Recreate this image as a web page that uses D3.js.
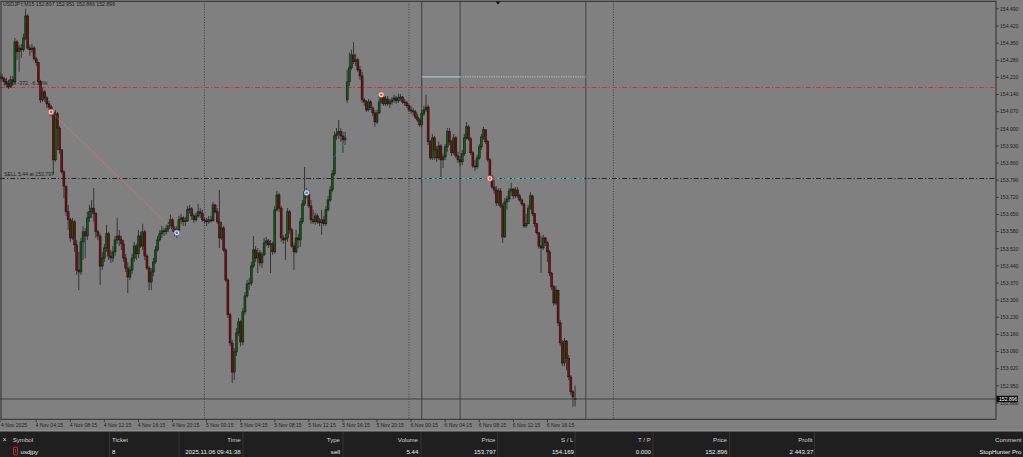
<!DOCTYPE html>
<html><head><meta charset="utf-8">
<script src="https://cdn.jsdelivr.net/npm/d3@7"></script>
<style>
html,body{margin:0;padding:0;background:#808080;overflow:hidden}
svg{display:block}
text{font-family:"Liberation Sans",Arial,sans-serif}
</style></head><body>
<svg id="c" width="1023" height="457"></svg>
<script>
// ---------------- DATA ----------------
const symbolTitle = "USDJPY,M15";
const startTime = "2025-11-04T00:00";
const open = [
154.208,154.212,154.204,154.192,154.184,154.171,154.200,154.192,154.355,154.315,
154.330,154.323,154.371,154.461,154.330,154.323,154.330,154.286,154.270,154.192,
154.118,154.151,154.126,154.102,154.089,154.069,153.873,154.061,154.003,153.914,
153.824,153.766,153.661,153.628,153.554,153.620,153.526,153.423,153.415,153.538,
153.579,153.562,153.636,153.661,153.676,153.653,153.579,153.562,153.439,153.472,
153.513,153.571,153.480,153.472,153.497,153.546,153.562,153.546,153.530,153.472,
153.431,153.394,153.423,153.472,153.521,153.489,153.562,153.521,153.579,153.480,
153.431,153.374,153.415,153.456,153.505,153.546,153.571,153.583,153.579,153.591,
153.603,153.628,153.591,153.579,153.587,153.628,153.636,153.620,153.624,153.669,
153.673,153.644,153.628,153.644,153.661,153.653,153.628,153.624,153.620,153.628,
153.624,153.689,153.661,153.620,153.554,153.595,153.505,153.382,153.240,153.125,
153.006,153.088,153.166,153.211,153.129,153.252,153.317,153.366,153.370,153.439,
153.505,153.472,153.493,153.452,153.485,153.534,153.542,153.526,153.530,153.497,
153.669,153.730,153.676,153.554,153.546,153.554,153.661,153.587,153.521,153.497,
153.554,153.546,153.620,153.693,153.742,153.734,153.685,153.628,153.620,153.644,
153.620,153.616,153.628,153.612,153.669,153.709,153.750,153.816,153.971,153.979,
153.988,153.971,153.955,154.118,154.192,154.249,154.302,154.274,154.282,154.241,
154.216,154.118,154.110,154.077,154.110,154.085,154.065,154.028,154.065,154.110,
154.130,154.102,154.122,154.102,154.110,154.118,154.126,154.114,154.126,154.130,
154.110,154.106,154.094,154.077,154.073,154.069,154.048,154.036,154.016,154.061,
154.077,154.089,153.947,153.881,153.963,153.914,153.881,153.930,153.873,153.885,
153.926,153.988,153.947,153.902,153.963,153.889,153.873,153.865,153.898,153.963,
154.008,153.959,153.902,153.848,153.844,153.881,153.926,153.967,153.996,153.947,
153.873,153.803,153.762,153.750,153.697,153.746,153.685,153.558,153.701,153.713,
153.746,153.754,153.726,153.750,153.726,153.709,153.693,153.603,153.612,153.676,
153.726,153.653,153.612,153.575,153.521,153.513,153.554,153.534,153.497,153.411,
153.354,153.288,153.341,153.207,153.125,153.043,153.133,153.063,152.986,152.925,
152.897];
const high = [
154.229,154.225,154.212,154.208,154.200,154.216,154.216,154.371,154.363,154.343,
154.347,154.388,154.490,154.470,154.343,154.347,154.338,154.294,154.274,154.200,
154.167,154.159,154.134,154.114,154.098,154.069,154.077,154.069,154.011,153.914,
153.832,153.766,153.689,153.636,153.636,153.628,153.546,153.497,153.554,153.603,
153.595,153.661,153.689,153.709,153.758,153.661,153.587,153.571,153.497,153.530,
153.608,153.579,153.505,153.521,153.562,153.636,153.587,153.562,153.546,153.489,
153.456,153.439,153.489,153.538,153.530,153.587,153.579,153.612,153.587,153.489,
153.439,153.431,153.472,153.521,153.562,153.587,153.603,153.595,153.608,153.620,
153.649,153.636,153.603,153.603,153.644,153.653,153.644,153.640,153.684,153.689,
153.680,153.653,153.657,153.693,153.676,153.669,153.636,153.636,153.644,153.644,
153.701,153.693,153.676,153.750,153.620,153.603,153.513,153.390,153.248,153.137,
153.104,153.186,153.227,153.219,153.268,153.333,153.382,153.390,153.456,153.562,
153.521,153.513,153.505,153.497,153.554,153.558,153.550,153.546,153.538,153.685,
153.746,153.738,153.685,153.566,153.571,153.676,153.669,153.595,153.534,153.587,
153.571,153.636,153.709,153.844,153.758,153.750,153.709,153.669,153.657,153.653,
153.636,153.669,153.644,153.685,153.726,153.766,153.832,153.988,154.003,154.036,
154.003,153.988,153.988,154.241,154.311,154.323,154.355,154.306,154.290,154.257,
154.233,154.126,154.118,154.122,154.118,154.094,154.077,154.077,154.134,154.147,
154.139,154.134,154.134,154.122,154.130,154.139,154.134,154.143,154.143,154.134,
154.122,154.114,154.102,154.094,154.085,154.077,154.061,154.044,154.077,154.094,
154.139,154.098,153.955,153.979,153.971,153.930,153.947,153.938,153.898,153.938,
154.003,154.003,153.955,153.979,153.971,153.906,153.889,153.914,153.979,154.028,
154.016,153.967,153.910,153.873,153.893,153.938,153.979,154.008,153.996,153.955,
153.881,153.812,153.791,153.766,153.758,153.758,153.697,153.717,153.726,153.758,
153.779,153.758,153.762,153.762,153.734,153.717,153.697,153.653,153.689,153.742,
153.730,153.657,153.616,153.579,153.562,153.567,153.558,153.542,153.505,153.415,
153.362,153.358,153.341,153.219,153.137,153.145,153.137,153.076,152.994,152.933,
152.951];
const low = [
154.196,154.192,154.175,154.167,154.163,154.167,154.175,154.184,154.282,154.233,
154.290,154.315,154.363,154.323,154.298,154.311,154.278,154.257,154.184,154.106,
154.110,154.110,154.085,154.077,154.052,153.812,153.865,153.914,153.898,153.816,
153.717,153.644,153.587,153.538,153.546,153.497,153.403,153.341,153.403,153.464,
153.472,153.546,153.620,153.636,153.620,153.554,153.546,153.362,153.423,153.456,
153.497,153.464,153.452,153.456,153.480,153.530,153.521,153.505,153.456,153.415,
153.329,153.382,153.407,153.456,153.464,153.472,153.513,153.505,153.464,153.423,
153.341,153.341,153.398,153.448,153.497,153.538,153.554,153.562,153.567,153.579,
153.595,153.579,153.562,153.554,153.579,153.612,153.603,153.603,153.620,153.653,
153.628,153.616,153.620,153.636,153.636,153.620,153.612,153.603,153.612,153.616,
153.620,153.653,153.612,153.513,153.546,153.497,153.374,153.227,153.112,152.961,
152.973,153.071,153.153,153.112,153.116,153.240,153.309,153.341,153.358,153.431,
153.456,153.411,153.439,153.431,153.480,153.521,153.513,153.411,153.485,153.489,
153.661,153.661,153.538,153.530,153.464,153.538,153.571,153.513,153.423,153.489,
153.513,153.517,153.612,153.685,153.717,153.676,153.612,153.612,153.608,153.612,
153.603,153.567,153.603,153.603,153.661,153.701,153.742,153.808,153.955,153.959,
153.947,153.902,153.934,154.106,154.175,154.241,154.265,154.257,154.233,154.200,
154.106,154.094,154.069,154.069,154.077,154.052,154.008,154.020,154.061,154.102,
154.094,154.094,154.094,154.085,154.098,154.106,154.102,154.106,154.114,154.102,
154.094,154.085,154.069,154.061,154.052,154.040,154.028,154.008,154.008,154.052,
154.069,153.934,153.873,153.873,153.873,153.865,153.873,153.803,153.840,153.873,
153.906,153.934,153.889,153.893,153.881,153.861,153.848,153.852,153.889,153.955,
153.951,153.893,153.840,153.828,153.836,153.873,153.914,153.955,153.938,153.865,
153.795,153.754,153.734,153.685,153.685,153.676,153.534,153.554,153.669,153.701,
153.726,153.713,153.717,153.717,153.701,153.685,153.595,153.595,153.612,153.669,
153.644,153.599,153.567,153.509,153.411,153.505,153.521,153.456,153.399,153.341,
153.276,153.280,153.194,153.112,153.030,153.030,153.014,152.973,152.912,152.864,
152.866];
const close = [
154.212,154.204,154.192,154.184,154.171,154.200,154.192,154.355,154.315,154.330,
154.323,154.371,154.461,154.330,154.323,154.330,154.286,154.270,154.192,154.118,
154.151,154.126,154.102,154.089,154.069,153.873,154.061,154.003,153.914,153.824,
153.766,153.661,153.628,153.554,153.620,153.526,153.423,153.415,153.538,153.579,
153.562,153.636,153.661,153.676,153.653,153.579,153.562,153.439,153.472,153.513,
153.571,153.480,153.472,153.497,153.546,153.562,153.546,153.530,153.472,153.431,
153.394,153.423,153.472,153.521,153.489,153.562,153.521,153.579,153.480,153.431,
153.374,153.415,153.456,153.505,153.546,153.571,153.583,153.579,153.591,153.603,
153.628,153.591,153.579,153.587,153.628,153.636,153.620,153.624,153.669,153.673,
153.644,153.628,153.644,153.661,153.653,153.628,153.624,153.620,153.628,153.624,
153.689,153.661,153.620,153.554,153.595,153.505,153.382,153.240,153.125,153.006,
153.088,153.166,153.211,153.129,153.252,153.317,153.366,153.370,153.439,153.505,
153.472,153.493,153.452,153.485,153.534,153.542,153.526,153.530,153.497,153.669,
153.730,153.676,153.554,153.546,153.554,153.661,153.587,153.521,153.497,153.554,
153.546,153.620,153.693,153.742,153.734,153.685,153.628,153.620,153.644,153.620,
153.616,153.628,153.612,153.669,153.709,153.750,153.816,153.971,153.979,153.988,
153.971,153.955,153.963,154.192,154.249,154.302,154.274,154.282,154.241,154.216,
154.118,154.110,154.077,154.110,154.085,154.065,154.028,154.065,154.110,154.130,
154.102,154.122,154.102,154.110,154.118,154.126,154.114,154.126,154.130,154.110,
154.106,154.094,154.077,154.073,154.069,154.048,154.036,154.016,154.061,154.077,
154.089,153.947,153.881,153.963,153.914,153.881,153.930,153.873,153.885,153.926,
153.988,153.947,153.902,153.963,153.889,153.873,153.865,153.898,153.963,154.008,
153.959,153.902,153.848,153.844,153.881,153.926,153.967,153.996,153.947,153.873,
153.803,153.762,153.750,153.697,153.746,153.685,153.558,153.701,153.713,153.746,
153.754,153.726,153.750,153.726,153.709,153.693,153.603,153.612,153.676,153.726,
153.653,153.612,153.575,153.521,153.513,153.554,153.534,153.497,153.411,153.354,
153.288,153.341,153.207,153.125,153.043,153.133,153.063,152.986,152.925,152.904,
152.896];

const priceTickLabels = ["154.490","154.420","154.350","154.280","154.210","154.140","154.070","154.000",
  "153.930","153.860","153.790","153.720","153.650","153.580","153.510","153.440","153.370","153.300",
  "153.230","153.160","153.090","153.020","152.950","152.880"];
const timeTickLabels = ["4 Nov 2025","4 Nov 04:15","4 Nov 08:15","4 Nov 12:15","4 Nov 16:15","4 Nov 20:15",
  "5 Nov 00:15","5 Nov 04:15","5 Nov 08:15","5 Nov 12:15","5 Nov 16:15","5 Nov 20:15",
  "6 Nov 00:15","6 Nov 04:15","6 Nov 08:15","6 Nov 12:15","6 Nov 16:15"];
const timeTickTimes = ["2025-11-04T00:00","2025-11-04T04:15","2025-11-04T08:15","2025-11-04T12:15","2025-11-04T16:15","2025-11-04T20:15",
  "2025-11-05T00:15","2025-11-05T04:15","2025-11-05T08:15","2025-11-05T12:15","2025-11-05T16:15","2025-11-05T20:15",
  "2025-11-06T00:15","2025-11-06T04:15","2025-11-06T08:15","2025-11-06T12:15","2025-11-06T16:15"];
const daySeparatorTimes = ["2025-11-05T00:00","2025-11-06T00:00","2025-11-07T00:00"];
const verticalLineTimes = ["2025-11-06T01:30","2025-11-06T06:00","2025-11-06T20:45"];

const tradeTypes = ["sell","buy","sell"];
const tradeOpenTimes = ["2025-11-04T06:00","2025-11-05T12:00","2025-11-06T09:30"];
const tradeOpenPrices = [154.069,153.739,153.797];
const tradeCloseTimes = ["2025-11-04T20:45","2025-11-05T20:45",null];
const tradeClosePrices = [153.575,154.139,null];

const slPrice = 154.169, entryPrice = 153.797, upperLevelPrice = 154.212;
const slLabel = "SL#8 -372, -6.28%";
const entryLabel = "SELL 5.44 at 153.797";

const tableHeaders = ["Symbol","Ticket","Time","Type","Volume","Price","S / L","T / P","Price","Profit","Comment"];
const tableRow = ["usdjpy","8","2025.11.06 09:41:38","sell","5.44","153.797","154.169","0.000","152.896","2 443.37","StopHunter Pro"];

// ---------------- DRAW ----------------
const svg = d3.select("#c");
const PL = 0, PR = 996, PT = 1.3, PB = 419.3;
const t0 = new Date(startTime).getTime();
const barOf = t => (new Date(t).getTime() - t0) / 9e5;
const x = d3.scaleLinear().domain([0, 467.6]).range([PL, PR]);
const y = d3.scaleLinear().domain([152.813, 154.521]).range([PB, PT]);
const fmt = d3.format(".3f");

svg.append("rect").attr("width",1023).attr("height",457).attr("fill","#808080");

svg.append("defs").append("clipPath").attr("id","pc").append("rect")
  .attr("x",PL).attr("y",PT).attr("width",PR-PL).attr("height",PB-PT);
const g = svg.append("g").attr("clip-path","url(#pc)");

// day separators
g.selectAll("line.sep").data(daySeparatorTimes).join("line")
  .attr("x1",d=>x(barOf(d))).attr("x2",d=>x(barOf(d)))
  .attr("y1",PT).attr("y2",PB).attr("stroke","#2e2e2e").attr("stroke-width",0.8)
  .attr("stroke-dasharray","1,1.6");

// vertical object lines
g.selectAll("line.vl").data(verticalLineTimes).join("line")
  .attr("x1",d=>x(barOf(d))).attr("x2",d=>x(barOf(d)))
  .attr("y1",PT).attr("y2",PB)
  .attr("stroke",(d,i)=> i===0 ? "#333" : "#555")
  .attr("stroke-width",(d,i)=> i===0 ? 0.9 : 1.4);

// SL line (red dash-dot) and entry line (dark dash-dot)
g.append("line").attr("x1",PL).attr("x2",PR).attr("y1",y(slPrice)).attr("y2",y(slPrice))
  .attr("stroke","#d43030").attr("stroke-width",1.1).attr("stroke-dasharray","5,2,1.2,2");
g.append("line").attr("x1",PL).attr("x2",PR).attr("y1",y(entryPrice)).attr("y2",y(entryPrice))
  .attr("stroke","#262626").attr("stroke-width",1).attr("stroke-dasharray","5,2,1.2,2");

// cyan levels between object lines
const vx = verticalLineTimes.map(t=>x(barOf(t)));
g.append("line").attr("x1",vx[0]).attr("x2",vx[1]).attr("y1",y(upperLevelPrice)).attr("y2",y(upperLevelPrice))
  .attr("stroke","#a6d6dc").attr("stroke-width",1);
g.append("line").attr("x1",vx[1]).attr("x2",vx[2]).attr("y1",y(upperLevelPrice)).attr("y2",y(upperLevelPrice))
  .attr("stroke","#a6d6dc").attr("stroke-width",0.9).attr("stroke-dasharray","1.2,1.2");
g.append("line").attr("x1",vx[0]).attr("x2",vx[2]).attr("y1",y(entryPrice)).attr("y2",y(entryPrice))
  .attr("stroke","#38c4cc").attr("stroke-width",1).attr("stroke-dasharray","2.5,2.5");

// candles
const bars = d3.range(Math.min(open.length,high.length,low.length,close.length))
  .map(i=>({i,o:open[i],h:high[i],l:low[i],c:close[i]}));
g.selectAll("line.wick").data(bars).join("line").attr("class","wick")
  .attr("x1",d=>x(d.i)).attr("x2",d=>x(d.i)).attr("y1",d=>y(d.h)).attr("y2",d=>y(d.l))
  .attr("stroke","#2c2c2c").attr("stroke-width",0.9);
g.selectAll("rect.body").data(bars).join("rect").attr("class","body")
  .attr("x",d=>x(d.i)-1).attr("width",2)
  .attr("y",d=>y(Math.max(d.o,d.c)))
  .attr("height",d=>Math.max(0.8, Math.abs(y(d.o)-y(d.c))))
  .attr("fill",d=> d.c>d.o ? "#0b5c0f" : (d.c<d.o ? "#7c0b0b" : "#222"))
  .attr("stroke","#141414").attr("stroke-width",0.5);

// trade lines and markers
const trades = tradeTypes.map((t,k)=>({type:t, ob:barOf(tradeOpenTimes[k]), op:tradeOpenPrices[k],
  cb: tradeCloseTimes[k] ? barOf(tradeCloseTimes[k]) : null, cp: tradeClosePrices[k]}));
const tcol = t => t==="sell" ? "#e0503a" : "#3a78c8";
g.selectAll("line.trade").data(trades.filter(d=>d.cb!==null)).join("line")
  .attr("x1",d=>x(d.ob)).attr("y1",d=>y(d.op)).attr("x2",d=>x(d.cb)).attr("y2",d=>y(d.cp))
  .attr("stroke",d=> d.type==="sell" ? "#d8806c" : "#4f88cc").attr("stroke-width",1)
  .attr("stroke-dasharray","1.3,1.7");
const marks = [];
trades.forEach(d=>{
  marks.push({b:d.ob,p:d.op,col:tcol(d.type)});
  if(d.cb!==null) marks.push({b:d.cb,p:d.cp,col:tcol(d.type==="sell"?"buy":"sell")});
});
g.selectAll("circle.mo").data(marks).join("circle")
  .attr("cx",d=>x(d.b)).attr("cy",d=>y(d.p)).attr("r",2.7)
  .attr("fill","#f4eaea").attr("fill-opacity",0.9).attr("stroke",d=>d.col).attr("stroke-width",0.5);
g.selectAll("circle.mi").data(marks).join("circle")
  .attr("cx",d=>x(d.b)).attr("cy",d=>y(d.p)).attr("r",1.3).attr("fill",d=>d.col);

// level labels
g.append("text").attr("x",4).attr("y",y(slPrice)-2).attr("font-size",5.2).attr("fill","#1e1e1e").text(slLabel);
g.append("text").attr("x",4).attr("y",y(entryPrice)-2.2).attr("font-size",5.2).attr("fill","#1e1e1e").text(entryLabel);

// bid line
const last = bars[bars.length-1];
svg.append("line").attr("x1",PL).attr("x2",PR).attr("y1",y(last.c)).attr("y2",y(last.c))
  .attr("stroke","#3a3a3a").attr("stroke-width",0.9);

// borders
svg.append("rect").attr("x",1).attr("y",PT).attr("width",PR-1).attr("height",PB-PT)
  .attr("fill","none").attr("stroke","#2e2e2e").attr("stroke-width",1);

// shift marker
svg.append("path").attr("d","M495.5,1.5 L500.5,1.5 L498,4.5 Z").attr("fill","#111");

// header text
svg.append("text").attr("x",3).attr("y",6).attr("font-size",5.2).attr("fill","#1e1e1e")
  .text(`${symbolTitle}  ${fmt(last.o)} ${fmt(last.h)} ${fmt(last.l)} ${fmt(last.c)}`);

// price axis
const pt = priceTickLabels.map(s=>({s,v:+s}));
svg.selectAll("line.pt").data(pt).join("line")
  .attr("x1",PR).attr("x2",PR+3).attr("y1",d=>y(d.v)).attr("y2",d=>y(d.v))
  .attr("stroke","#2e2e2e").attr("stroke-width",0.8);
svg.selectAll("text.pt").data(pt).join("text")
  .attr("x",PR+4).attr("y",d=>y(d.v)+1.8).attr("font-size",5.1).attr("fill","#1e1e1e").text(d=>d.s);
// current price box
svg.append("rect").attr("x",PR+0.5).attr("y",y(last.c)-3.2).attr("width",21.5).attr("height",6.4).attr("fill","#0a0a0a");
svg.append("text").attr("x",PR+3).attr("y",y(last.c)+1.8).attr("font-size",5.1).attr("fill","#ffffff").text(fmt(last.c));

// time axis
const tt = timeTickLabels.map((s,k)=>({s,b:barOf(timeTickTimes[k])}));
svg.selectAll("line.tt").data(tt).join("line")
  .attr("x1",d=>x(d.b)).attr("x2",d=>x(d.b)).attr("y1",PB).attr("y2",PB+3)
  .attr("stroke","#2e2e2e").attr("stroke-width",0.8);
svg.selectAll("text.tt").data(tt).join("text")
  .attr("x",d=>Math.max(1,x(d.b)-0.6)).attr("y",PB+7.3).attr("font-size",5.1).attr("fill","#1e1e1e").text(d=>d.s);

// toolbox table
svg.append("rect").attr("x",0).attr("y",430.5).attr("width",1023).attr("height",1).attr("fill","#9c9c9c");
svg.append("rect").attr("x",0).attr("y",431.5).attr("width",1023).attr("height",25.5).attr("fill","#1f1f1f");
const seps = [109.5,179,243,343,421,497.5,575,653,729.5,814.5];
svg.selectAll("line.tsep").data(seps).join("line")
  .attr("x1",d=>d).attr("x2",d=>d).attr("y1",432).attr("y2",457).attr("stroke","#3a3a3a").attr("stroke-width",0.8);
const colX = [12.7,112,240.7,340,418,495.5,573.5,650.8,727,812.5,1021.5];
const rowX = [20.5,112,240.7,340,418.3,496,574,651,727.3,813.3,1021.5];
const anchor = k => k<2 ? "start" : "end";
svg.selectAll("text.th").data(tableHeaders).join("text")
  .attr("x",(d,k)=>colX[k]).attr("y",442).attr("text-anchor",(d,k)=>anchor(k))
  .attr("font-size",6.1).attr("fill","#d2d2d2").text(d=>d);
svg.selectAll("text.tr").data(tableRow).join("text")
  .attr("x",(d,k)=>rowX[k]).attr("y",453.8).attr("text-anchor",(d,k)=>anchor(k))
  .attr("font-size",6.1).attr("fill","#ececec").text(d=>d);
svg.append("text").attr("x",2.5).attr("y",442).attr("font-size",7).attr("fill","#cfcfcf").text("×");
svg.append("rect").attr("x",13.5).attr("y",447.3).attr("width",4).attr("height",7.6).attr("rx",0.6)
  .attr("fill","none").attr("stroke","#cc3535").attr("stroke-width",0.9);
svg.append("line").attr("x1",15.5).attr("x2",15.5).attr("y1",449).attr("y2",453).attr("stroke","#cc3535").attr("stroke-width",0.7);
</script>
</body></html>
